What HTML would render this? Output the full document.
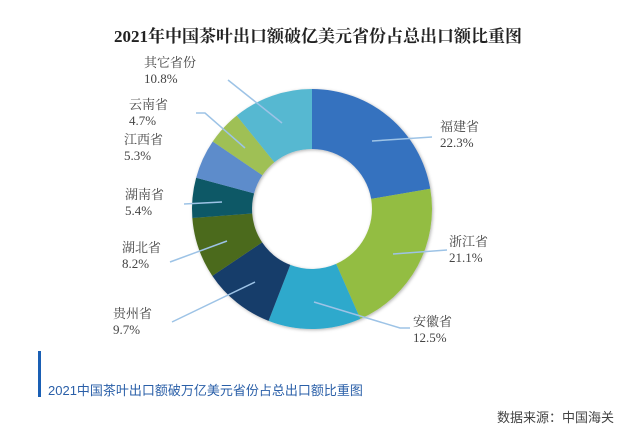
<!DOCTYPE html>
<html><head><meta charset="utf-8"><style>
body{margin:0;background:#fff;width:631px;height:429px;overflow:hidden;position:relative;font-family:"Liberation Sans","Noto Sans CJK SC",sans-serif}
.t{position:absolute;font-size:13px;color:#444;line-height:16px;font-family:"Liberation Serif","Noto Serif CJK SC",serif}
</style></head><body>
<svg width="631" height="340" style="position:absolute;left:0;top:0" id="s">
<defs><filter id="sh"><feDropShadow dx="1" dy="1" stdDeviation="1.5" flood-opacity="0.3"/></filter></defs>
<text x="318" y="42" text-anchor="middle" font-size="17" font-weight="bold" fill="#222" font-family="Liberation Serif,Noto Serif CJK SC,serif">2021年中国茶叶出口额破亿美元省份占总出口额比重图</text>
<g id="d" filter="url(#sh)"></g>
<g stroke="#9dc3e6" stroke-width="1.5" fill="none">
<polyline points="372,141 432,137"/>
<polyline points="393,254 447,250"/>
<polyline points="314,302 400,328 410,328"/>
<polyline points="255,282 172,322"/>
<polyline points="227,241 170,262"/>
<polyline points="222,202 184,204"/>
<polyline points="245,148 205,113 196,113"/>
<polyline points="282,123 228,80"/>
</g>
</svg>
<div class="t" style="left:440px;top:119px">福建省<br>22.3%</div>
<div class="t" style="left:449px;top:234px">浙江省<br>21.1%</div>
<div class="t" style="left:413px;top:314px">安徽省<br>12.5%</div>
<div class="t" style="left:113px;top:306px">贵州省<br>9.7%</div>
<div class="t" style="left:122px;top:240px">湖北省<br>8.2%</div>
<div class="t" style="left:125px;top:187px">湖南省<br>5.4%</div>
<div class="t" style="left:124px;top:132px">江西省<br>5.3%</div>
<div class="t" style="left:129px;top:97px">云南省<br>4.7%</div>
<div class="t" style="left:144px;top:55px">其它省份<br>10.8%</div>
<div style="position:absolute;left:38px;top:351px;width:3px;height:46px;background:#1a5fb4"></div>
<div style="position:absolute;left:48px;top:380px;font-size:13px;color:#2a5fa8">2021中国茶叶出口额破万亿美元省份占总出口额比重图</div>
<div style="position:absolute;right:17px;top:407px;font-size:13px;color:#444">数据来源：中国海关</div>
<script>
var v=[22.3,21.1,12.5,9.7,8.2,5.4,5.3,4.7,10.8];
var c=["#3672bf","#93bd43","#2fa9cc","#173c6b","#4b6a1c","#0d5866","#5d8ccb","#9fc055","#56b8d1"];
var cx=312,cy=209,R=120,r=60,a=0,g=document.getElementById('d'),h='';
function p(an,rad){var t=(an/100)*2*Math.PI;return [cx+rad*Math.sin(t),cy-rad*Math.cos(t)];}
v.forEach(function(x,i){var b=a+x,l=x>50?1:0,p1=p(a,R),p2=p(b,R),p3=p(b,r),p4=p(a,r);
h+='<path fill="'+c[i]+'" d="M'+p1+' A'+R+','+R+' 0 '+l+' 1 '+p2+' L'+p3+' A'+r+','+r+' 0 '+l+' 0 '+p4+'Z"/>';a=b;});
g.innerHTML=h;
</script>
</body></html>
